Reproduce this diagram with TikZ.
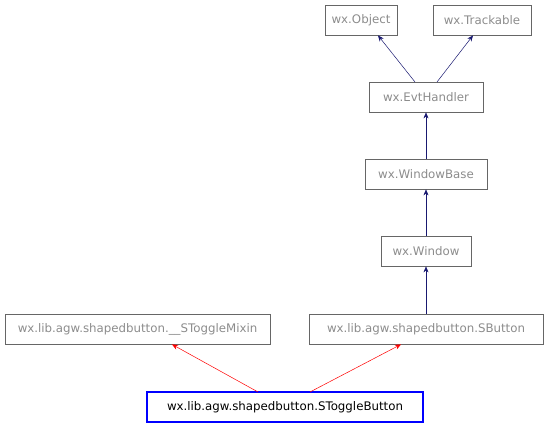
\documentclass[tikz,border=0pt]{standalone}
\usepackage{fontspec}
\setmainfont{DejaVu Sans}
\usetikzlibrary{arrows.meta}
\definecolor{edgeblue}{HTML}{191970}
\definecolor{boxgray}{HTML}{666666}
\definecolor{txtgray}{HTML}{8C8C8C}
\tikzset{
  cls/.style={draw=boxgray, line width=0.8pt, minimum height=30pt, inner sep=0pt, font=\fontsize{11.8}{13}\selectfont, text=txtgray, anchor=center},
  main/.style={cls, draw=blue, line width=2pt, text=black},
  inh/.style={draw=edgeblue, line width=0.5pt, -{Stealth[length=6pt,width=5pt]}},
  inhr/.style={draw=red, line width=0.5pt, -{Stealth[length=6pt,width=5pt]}}
}
\begin{document}
\begin{tikzpicture}[x=1pt,y=-1pt]
\useasboundingbox (0,0) rectangle (549,427);
\node[cls, minimum width=72pt] (obj) at (361,20) {wx.Object};
\node[cls, minimum width=98pt] (trk) at (482,20) {wx.Trackable};
\node[cls, minimum width=114pt] (evt) at (426,97) {wx.EvtHandler};
\node[cls, minimum width=122pt] (wb) at (426,174) {wx.WindowBase};
\node[cls, minimum width=90pt] (win) at (426,251) {wx.Window};
\node[cls, minimum width=265pt] (mix) at (137.5,329) {wx.lib.agw.shapedbutton.\_\_SToggleMixin};
\node[cls, minimum width=234pt] (sb) at (426,329) {wx.lib.agw.shapedbutton.SButton};
\node[main, minimum width=276pt] (stb) at (285,407) {wx.lib.agw.shapedbutton.SToggleButton};
\coordinate (e1) at (415,82);
\coordinate (e2) at (437,82);
\draw[inh] (e1) -- (obj.south -| 378,0);
\draw[inh] (e2) -- (trk.south -| 473,0);
\draw[inh] (wb) -- (evt);
\draw[inh] (win) -- (wb);
\draw[inh] (sb) -- (win);
\coordinate (s1) at (258,392);
\coordinate (s2) at (310,392);
\draw[inhr] (s1) -- (mix.south -| 172,0);
\draw[inhr] (s2) -- (sb.south -| 401,0);
\end{tikzpicture}
\end{document}
